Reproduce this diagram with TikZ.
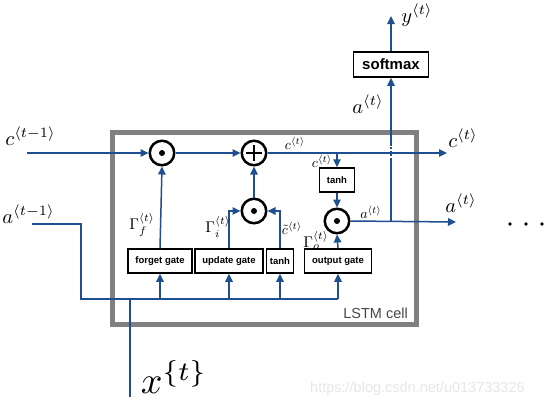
\documentclass[tikz,border=0pt]{standalone}
\usepackage{fontspec}
\setsansfont{Liberation Sans}
\usetikzlibrary{arrows.meta}
\definecolor{lblue}{RGB}{30,80,145}
\definecolor{cellgray}{RGB}{128,128,128}
\definecolor{celltext}{RGB}{70,70,70}
\definecolor{wmark}{RGB}{230,230,230}
\begin{document}
\begin{tikzpicture}[x=1pt,y=-1pt,
  conn/.style={draw=lblue, line width=1.5pt},
  arr/.style={conn, -{Triangle[length=8pt,width=7.5pt]}},
  gatebox/.style={draw=black, line width=1.5pt, minimum height=24pt, inner sep=0pt, fill=white,
    font=\sffamily\bfseries\fontsize{9.5}{10}\selectfont},
  op/.style={circle, draw=black, line width=2.5pt, minimum size=24.5pt, inner sep=0pt, fill=white},
  big/.style={inner sep=0pt, font=\fontsize{10}{12}\selectfont, scale=2.05},
  small/.style={inner sep=0pt, font=\fontsize{10}{12}\selectfont, scale=1.4},
  gam/.style={inner sep=0pt, font=\fontsize{10}{12}\selectfont, scale=1.55},
]
\useasboundingbox (0,0) rectangle (553,407);
% cell frame
\draw[cellgray, line width=5pt] (112.5,132) rectangle (416,324.5);
\node[anchor=south east, inner sep=0pt, text=celltext, font=\sffamily\fontsize{14.5}{15}\selectfont] (lbl) at (408,319) {LSTM cell};

% operators
\node[op] (fm) at (162,153) {};
\node[op] (pl) at (254,153) {};
\node[op] (um) at (254,211) {};
\node[op] (om) at (337,221) {};
\fill (fm) circle (3pt);
\fill (um) circle (3pt);
\fill (om) circle (3pt);
\draw[line width=1.6pt] ([xshift=-8pt]pl.center) -- ([xshift=8pt]pl.center);
\draw[line width=1.6pt] ([yshift=-8pt]pl.center) -- ([yshift=8pt]pl.center);

% gates
\node[gatebox, minimum width=64pt] (fg) at (160,261) {forget gate};
\node[gatebox, minimum width=68pt] (ug) at (229,261) {update gate};
\node[gatebox, minimum width=27pt] (tg) at (280,261) {tanh};
\node[gatebox, minimum width=67pt] (og) at (338,261) {output gate};
\node[gatebox, minimum width=35pt] (th2) at (337,180) {tanh};
\node[gatebox, minimum width=75pt, minimum height=25pt, font=\sffamily\bfseries\fontsize{15}{16}\selectfont] (sm) at (391,64.5) {softmax};

% coordinates
\coordinate (cin) at (27,153);
\coordinate (cout) at (447,153);
\coordinate (cbr) at (337,153);
\coordinate (aout) at (456,222);
\coordinate (j) at (391,222);
\coordinate (cr1) at (391,159);
\coordinate (cr2) at (391,146);
\coordinate (yout) at (391,16);
\coordinate (ain) at (32,224);
\coordinate (abend) at (81,224);
\coordinate (bl) at (81,299);
\coordinate (br) at (338,299);
\coordinate (xin) at (130,397);

% cell state path
\draw[arr] (cin) -- (fm.west);
\draw[arr] (fm.east) -- (pl.west);
\draw[arr] (pl.east) -- (cout);
\draw[arr] (cbr) -- (th2.north);
\draw[arr] (th2.south) -- (om.north);
% gates to operators
\draw[arr] (fg.north) -- (fm.south);
\draw[arr] (ug.north) |- (um.west);
\draw[arr] (tg.north) |- (um.east);
\draw[arr] (um.north) -- (pl.south);
\draw[arr] (og.north) -- (om.south);
% hidden output
\draw[arr] (om.east) -- (aout);
\draw[conn] (j) -- (cr1);
\draw[conn, dotted, line width=1.2pt] (cr1) -- (cr2);
\draw[arr] (cr2) -- (sm.south);
\draw[arr] (sm.north) -- (yout);
% inputs
\draw[conn] (ain) -- (abend) -- (bl) -- (br);
\draw[conn] (xin) -- (xin |- bl);
\draw[arr] (fg.south |- bl) -- (fg.south);
\draw[arr] (ug.south |- bl) -- (ug.south);
\draw[arr] (tg.south |- bl) -- (tg.south);
\draw[arr] (og.south |- bl) -- (og.south);

% big labels
\node[big, anchor=west] (lcin) at (5,136) {$c^{\langle t-1\rangle}$};
\node[big, anchor=west] (lain) at (2,214) {$a^{\langle t-1\rangle}$};
\node[big] (lcout) at (463,138) {$c^{\langle t\rangle}$};
\node[big] (laout) at (461,203) {$a^{\langle t\rangle}$};
\node[big] (lasm) at (368,104) {$a^{\langle t\rangle}$};
\node[big] (ly) at (417,15) {$y^{\langle t\rangle}$};
\node[inner sep=0pt, font=\fontsize{10}{12}\selectfont, scale=3.8] (lx) at (174,377) {$x^{\{t\}}$};

% small labels
\node[small] (lc1) at (295,143) {$c^{\langle t\rangle}$};
\node[small] (lc2) at (322,161) {$c^{\langle t\rangle}$};
\node[small] (la1) at (371,212) {$a^{\langle t\rangle}$};
\node[gam] (lgf) at (142,225) {$\Gamma_f^{\langle t\rangle}$};
\node[gam] (lgi) at (218,227) {$\Gamma_i^{\langle t\rangle}$};
\node[small] (lct) at (292,228) {$\tilde{c}^{\langle t\rangle}$};
\node[gam] (lgo) at (316,240) {$\Gamma_o^{\langle t\rangle}$};

% continuation dots
\fill (510,224) circle (1.8pt);
\fill (526,224) circle (1.8pt);
\fill (542,224) circle (1.8pt);

% watermark
\node[anchor=west, inner sep=0pt, text=wmark, font=\sffamily\fontsize{14.5}{15}\selectfont] (wm) at (310,389) {https://blog.csdn.net/u013733326};
\end{tikzpicture}
\end{document}
